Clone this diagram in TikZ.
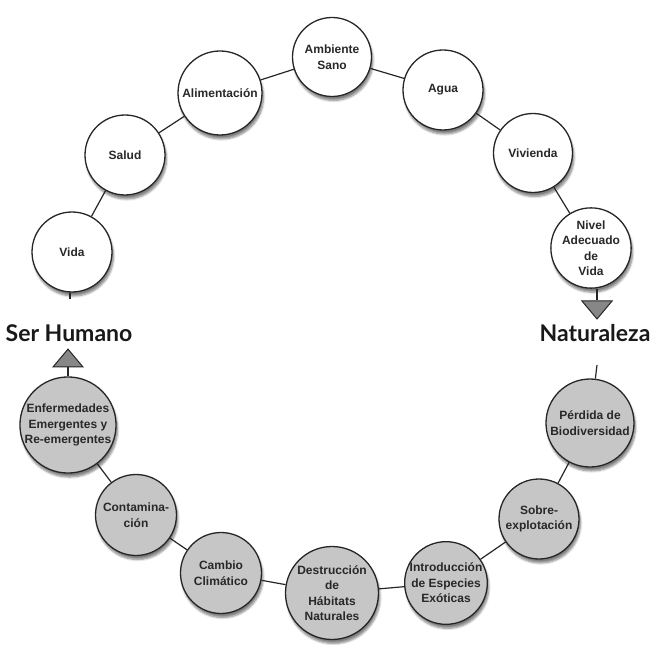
\documentclass[tikz,border=0pt]{standalone}
\usepackage{fontspec}
\setmainfont{Liberation Sans}
\newfontfamily\labelfont{Lato}
\usetikzlibrary{shadows.blur,shapes.geometric}
\definecolor{nodegray}{RGB}{198,198,198}
\definecolor{trigray}{RGB}{135,135,135}
\definecolor{txt}{RGB}{40,40,40}
\tikzset{
  bubble/.style={circle, draw=black!85, line width=1.3pt, minimum size=#1, inner sep=0pt,
    align=center, font=\fontsize{12}{15.5}\selectfont\bfseries, text=txt,
    blur shadow={shadow xshift=1.5pt, shadow yshift=-4pt, shadow blur steps=6, shadow opacity=50}},
  white/.style={bubble=#1, fill=white},
  grey/.style={bubble=#1, fill=nodegray},
  conn/.style={draw=black!85, line width=1.2pt},
  tri/.style={draw=black!85, line width=1pt, fill=trigray, line join=miter},
  biglabel/.style={font=\labelfont\fontsize{23}{26}\selectfont\bfseries, text=black!90}
}
\begin{document}
\begin{tikzpicture}[x=1pt,y=-1pt]
\useasboundingbox (0,0) rectangle (650,652);
% upper (white) nodes
\node[white=80pt] (vida) at (72,252) {Vida};
\node[white=80pt] (salud) at (125,155) {Salud};
\node[white=84pt] (alim) at (220,93) {Alimentación};
\node[white=79pt] (amb) at (332,57) {Ambiente\\Sano};
\node[white=80pt] (agua) at (443,90) {Agua};
\node[white=79pt] (viv) at (533,153) {Vivienda};
\node[white=78pt] (nivel) at (591,248) {Nivel\\Adecuado\\de\\Vida};
% lower (grey) nodes
\node[grey=88pt] (perd) at (590,423) {Pérdida de\\Biodiversidad};
\node[grey=80pt] (sobre) at (539,519) {Sobre-\\explotación};
\node[grey=82pt] (intro) at (446,583) {Introducción\\de Especies\\Exóticas};
\node[grey=93pt] (dest) at (332,593) {Destrucción\\de\\Hábitats\\Naturales};
\node[grey=81pt] (camb) at (221,573) {Cambio\\Climático};
\node[grey=81pt] (cont) at (136,515) {Contamina-\\ción};
\node[grey=96pt] (enf) at (68,425) {Enfermedades\\Emergentes y\\Re-emergentes};
% labels
\node[biglabel] (ser) at (69,333) {Ser Humano};
\node[biglabel] (nat) at (595,333) {Naturaleza};
% triangles
\node[tri, isosceles triangle, isosceles triangle apex angle=80, shape border rotate=-90,
  minimum height=18pt, minimum width=30pt, inner sep=0pt] (tdown) at (597,308) {};
\node[tri, isosceles triangle, isosceles triangle apex angle=80, shape border rotate=90,
  minimum height=17pt, minimum width=30pt, inner sep=0pt] (tup) at (68,360) {};
% free ends
\coordinate (vidastub) at (70,299);
\coordinate (perdstub) at (597,365);
% connectors
\draw[conn] (vida) -- (salud);
\draw[conn] (salud) -- (alim);
\draw[conn] (alim) -- (amb);
\draw[conn] (amb) -- (agua);
\draw[conn] (agua) -- (viv);
\draw[conn] (viv) -- (nivel);
\draw[conn] (nivel.south -| tdown.north) -- (tdown.north);
\draw[conn] (vida.south -| vidastub) -- (vidastub);
\draw[conn] (perdstub) -- (perd);
\draw[conn] (perd) -- (sobre);
\draw[conn] (sobre) -- (intro);
\draw[conn] (intro) -- (dest);
\draw[conn] (dest) -- (camb);
\draw[conn] (camb) -- (cont);
\draw[conn] (cont) -- (enf);
\draw[conn] (enf.north) -- (tup.south);
\end{tikzpicture}
\end{document}
